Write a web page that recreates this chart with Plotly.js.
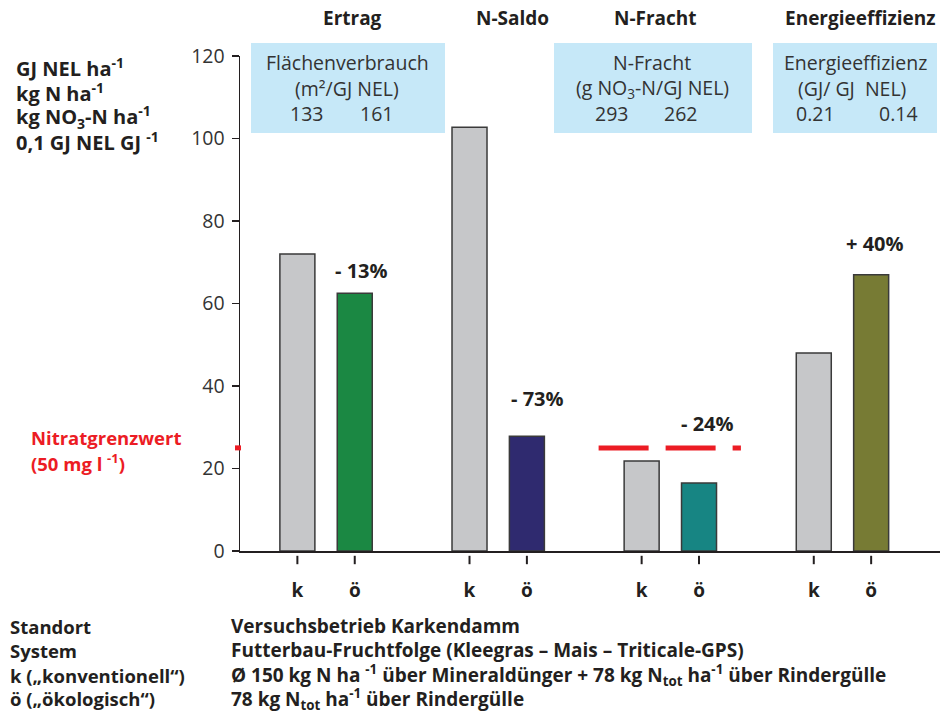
<!DOCTYPE html>
<html>
<head>
<meta charset="utf-8">
<script src="https://cdn.plot.ly/plotly-3.0.1.min.js"></script>
<style>html,body{margin:0;padding:0;background:#fff;}#chart{width:943px;height:713px;}</style>
</head>
<body>
<div id="chart"></div>
<script>
// ---- data ----
const categories = ['Ertrag', 'N-Saldo', 'N-Fracht', 'Energieeffizienz'];
const kValues = [72, 102.7, 21.8, 48];
const oValues = [62.5, 27.8, 16.5, 67];
const changeLabels = ['- 13%', '- 73%', '- 24%', '+ 40%'];
const systemLabels = ['k', 'ö'];
const nitratLimit = 25;
const yTicks = [0, 20, 40, 60, 80, 100, 120];
const boxTitles = ['Flächenverbrauch', 'N-Fracht', 'Energieeffizienz'];
const boxUnits = ['(m²/GJ NEL)', '(g NO<sub>3</sub>-N/GJ NEL)', '(GJ/ GJ  NEL)'];
const boxK = ['133', '293', '0.21'];
const boxO = ['161', '262', '0.14'];

// ---- layout helpers ----
const W = 943, H = 713, ML = 240, MR = 3, MT = 56, MB = 140;
const AXIS_Y = 551;                       // pixel row of the x axis line
const PW = W - ML - MR, PH = H - MT - MB;
const px = x => (x - ML) / PW;
const py = y => (H - MB - y) / PH;
const XR = [-1.0, 11.2];
const FONT = '"Open Sans", Lato, sans-serif';
const DARK = '#231f20';
const yDomBottom = py(AXIS_Y);

const kPos = categories.map((c, i) => i * 3);
const oPos = categories.map((c, i) => i * 3 + 1);
const allPos = kPos.concat(oPos);
const oColors = ['#1b8843', '#2f2a6f', '#178583', '#777b34'];

// tick strip: a small subplot below the axis (y2 spans AXIS_Y..H-MB in pixels)
const tickStripY = (H - MB - 560) / (H - MB - AXIS_Y);

const traces = [
  {type: 'bar', x: kPos, y: kValues, width: 0.61,
   marker: {color: '#c6c7c9', line: {color: '#3a3a3a', width: 1.5}}, hoverinfo: 'y'},
  {type: 'bar', x: oPos, y: oValues, width: 0.61,
   marker: {color: oColors, line: {color: '#3a3a3a', width: 1.5}}, hoverinfo: 'y'},
  {type: 'scatter', mode: 'lines', x: [5.25, 7.73], y: [nitratLimit, nitratLimit],
   line: {color: '#ec1c24', width: 5, dash: '50px,17px'}, cliponaxis: false, hoverinfo: 'skip'},
  {type: 'scatter', mode: 'markers', xaxis: 'x', yaxis: 'y2', x: allPos, y: allPos.map(() => tickStripY),
   marker: {symbol: 'line-ns', size: 6, color: DARK, line: {color: DARK, width: 2}}, hoverinfo: 'skip'}
];

const annotations = [];
// header labels
const headerX = [352, 512, 655, 860];
categories.forEach((c, i) => annotations.push({
  xref: 'paper', yref: 'paper', x: px(headerX[i]), y: py(18), text: '<b>' + c + '</b>',
  showarrow: false, xanchor: 'center', yanchor: 'middle', font: {size: 19, color: DARK}
}));
// percent labels
const labelY = [68, 37, 31, 74.5];
const labelDX = [0.12, 0.19, 0.14, 0.07];
changeLabels.forEach((t, i) => annotations.push({
  x: oPos[i] + labelDX[i], y: labelY[i], text: '<b>' + t + '</b>', showarrow: false,
  xanchor: 'center', yanchor: 'middle', font: {size: 20, color: DARK}
}));
// boxes text
const boxCX = [347, 652, 855];
const boxKX = [306, 611, 815];
const boxOX = [376, 680, 898];
boxTitles.forEach((t, i) => {
  annotations.push({xref: 'paper', yref: 'paper', x: px(boxCX[i]), y: py(62), text: t,
    showarrow: false, xanchor: 'center', yanchor: 'middle', font: {size: 19.5, color: '#333'}});
  annotations.push({xref: 'paper', yref: 'paper', x: px(boxCX[i] - (i === 2 ? 3 : 0)), y: py(88), text: boxUnits[i],
    showarrow: false, xanchor: 'center', yanchor: 'middle', font: {size: 19.5, color: '#333'}});
  annotations.push({xref: 'paper', yref: 'paper', x: px(boxKX[i]), y: py(113), text: boxK[i],
    showarrow: false, xanchor: 'center', yanchor: 'middle', font: {size: 19.5, color: '#333'}});
  annotations.push({xref: 'paper', yref: 'paper', x: px(boxOX[i]), y: py(113), text: boxO[i],
    showarrow: false, xanchor: 'center', yanchor: 'middle', font: {size: 19.5, color: '#333'}});
});
// left unit labels
const unitLabels = ['GJ NEL ha<sup>-1</sup>', 'kg N ha<sup>-1</sup>', 'kg NO<sub>3</sub>-N ha<sup>-1</sup>', '0,1 GJ NEL GJ <sup>-1</sup>'];
const unitY = [67, 92, 117, 141];
unitLabels.forEach((t, i) => annotations.push({
  xref: 'paper', yref: 'paper', x: px(14), y: py(unitY[i]), text: '<b>' + t + '</b>',
  showarrow: false, xanchor: 'left', yanchor: 'middle', font: {size: 20, color: DARK}
}));
// Nitratgrenzwert
[['Nitratgrenzwert', 437], ['(50 mg l <sup>-1</sup>)', 462]].forEach(([t, y]) => annotations.push({
  xref: 'paper', yref: 'paper', x: px(29), y: py(y), text: '<b>' + t + '</b>',
  showarrow: false, xanchor: 'left', yanchor: 'middle', font: {size: 18.5, color: '#ec1c24'}
}));
// bottom info
const infoLeft = ['Standort', 'System', 'k („konventionell“)', 'ö („ökologisch“)'];
const infoRight = ['Versuchsbetrieb Karkendamm',
  'Futterbau-Fruchtfolge (Kleegras – Mais – Triticale-GPS)',
  'Ø 150 kg N ha <sup>-1</sup> über Mineraldünger + 78 kg N<sub>tot</sub> ha<sup>-1</sup> über Rindergülle',
  '78 kg N<sub>tot</sub> ha<sup>-1</sup> über Rindergülle'];
const infoY = [626, 650, 675, 699];
infoLeft.forEach((t, i) => {
  annotations.push({xref: 'paper', yref: 'paper', x: px(8), y: py(infoY[i]), text: '<b>' + t + '</b>',
    showarrow: false, xanchor: 'left', yanchor: 'middle', font: {size: 18.5, color: DARK}});
  annotations.push({xref: 'paper', yref: 'paper', x: px(229), y: py(infoY[i]), text: '<b>' + infoRight[i] + '</b>',
    showarrow: false, xanchor: 'left', yanchor: 'middle', font: {size: 19, color: DARK}});
});

const boxes = [[251, 445], [554, 752], [773, 937]];
const shapes = boxes.map(([a, b]) => ({
  type: 'rect', xref: 'paper', yref: 'paper', x0: px(a), x1: px(b), y0: py(133), y1: py(43),
  fillcolor: '#c6e8f8', line: {width: 0}, layer: 'below'
}));
shapes.push({type: 'line', xref: 'paper', yref: 'y', x0: px(235), x1: px(241), y0: nitratLimit, y1: nitratLimit,
  line: {color: '#ec1c24', width: 5}});

const layout = {
  width: W, height: H,
  margin: {l: ML, r: MR, t: MT, b: MB, pad: 0},
  paper_bgcolor: '#fff', plot_bgcolor: 'rgba(0,0,0,0)',
  font: {family: FONT, color: DARK},
  showlegend: false,
  barmode: 'overlay',
  xaxis: {range: XR, showgrid: false, zeroline: false, showline: true, anchor: 'y',
    linecolor: DARK, linewidth: 2, ticks: '',
    tickvals: allPos, ticktext: kPos.map(() => '<b>' + systemLabels[0] + '</b>').concat(oPos.map(() => '<b>' + systemLabels[1] + '</b>')),
    tickfont: {size: 19, color: DARK}, ticklabelstandoff: 21},
  yaxis: {range: [0, 120], domain: [yDomBottom, 1], showgrid: false, zeroline: false, showline: true,
    linecolor: DARK, linewidth: 1.5, ticks: 'outside', ticklen: 7, tickwidth: 1.5, tickcolor: DARK,
    tickvals: yTicks, tickfont: {size: 19.5, color: '#333'}, ticklabelstandoff: 3},
  yaxis2: {range: [0, 1], domain: [0, yDomBottom], anchor: 'x', visible: false, fixedrange: true},
  annotations: annotations,
  shapes: shapes
};

Plotly.newPlot('chart', traces, layout, {displayModeBar: false, staticPlot: true});
</script>
</body>
</html>
